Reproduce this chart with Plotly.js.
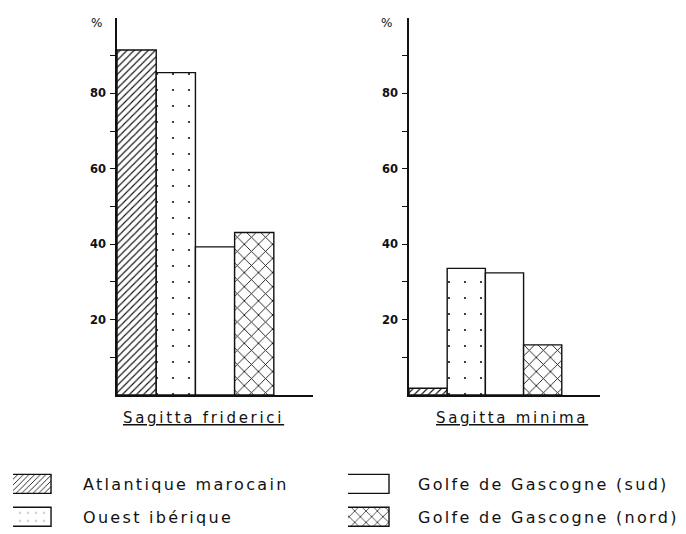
<!DOCTYPE html>
<html>
<head>
<meta charset="utf-8">
<script src="https://cdn.plot.ly/plotly-3.0.1.min.js"></script>
<style>
html,body{margin:0;padding:0;background:#fff;}
#chart{width:686px;height:534px;}
text.legendtext, text.legend2text{letter-spacing:2.3px;}
text.annotation-text{letter-spacing:2.7px;}
</style>
</head>
<body>
<div id="chart"></div>
<script>
// ---- data ----
const categories = ['Atlantique marocain', 'Ouest ibérique', 'Golfe de Gascogne (sud)', 'Golfe de Gascogne (nord)'];
const friderici = [91.5, 85.5, 39.3, 43.1];
const minima = [1.8, 33.6, 32.4, 13.3];
const panelTitles = ['Sagitta friderici', 'Sagitta minima'];
const majorTicks = [20, 40, 60, 80];
const majorTickText = ['20', '40', '60', '80'];
const minorTicks = [10, 30, 50, 70, 90];

// ---- styles ----
const patterns = [
  {shape: '/', size: 5, solidity: 0.22, fgcolor: '#111', bgcolor: '#fff', fgopacity: 1},
  {shape: '.', size: 16, solidity: 0.015, fgcolor: '#111', bgcolor: '#fff', fgopacity: 1},
  {shape: '', fgcolor: '#111', bgcolor: '#fff'},
  {shape: 'x', size: 10, solidity: 0.17, fgcolor: '#111', bgcolor: '#fff', fgopacity: 1}
];
const legendOf = ['legend', 'legend', 'legend2', 'legend2'];

const traces = [];
[friderici, minima].forEach((vals, p) => {
  const xa = p === 0 ? 'x' : 'x2';
  const ya = p === 0 ? 'y' : 'y2';
  categories.forEach((c, i) => {
    traces.push({
      type: 'bar',
      x: [c],
      y: [vals[i]],
      xaxis: xa, yaxis: ya,
      name: c,
      width: 1,
      legend: legendOf[i],
      legendgroup: 'g' + i,
      showlegend: p === 0,
      marker: {
        color: '#fff',
        line: {color: '#111', width: 1.4},
        pattern: patterns[i]
      },
      hoverinfo: 'skip'
    });
  });
});

const tickFont = {family: 'DejaVu Sans', size: 11.5, color: '#111', weight: 'bold'};
function yax(anchor) {
  return {
    anchor: anchor,
    range: [0, 100],
    tickvals: majorTicks, ticktext: majorTickText,
    ticks: 'outside', ticklen: 5, tickwidth: 1.3, tickcolor: '#111',
    minor: {tickvals: minorTicks, ticks: 'outside', ticklen: 5, tickwidth: 1, tickcolor: '#111'},
    showline: true, linecolor: '#111', linewidth: 1.8,
    showgrid: false, zeroline: false,
    tickfont: tickFont, ticklabelstandoff: 2,
    fixedrange: true
  };
}
function xax(anchor, dom) {
  return {
    anchor: anchor, domain: dom,
    type: 'category', categoryarray: categories,
    range: [-0.5, 4.5],
    showticklabels: false, ticks: '',
    showline: true, linecolor: '#111', linewidth: 1.6,
    showgrid: false, zeroline: false, fixedrange: true
  };
}
const yDom = [0.2603, 0.9663];
const textFont = {family: 'DejaVu Sans', size: 15, color: '#111'};
const legFont = {family: 'DejaVu Sans', size: 16, color: '#111'};

const layout = {
  width: 686, height: 534,
  margin: {l: 0, r: 0, t: 0, b: 0},
  paper_bgcolor: '#fff', plot_bgcolor: 'rgba(0,0,0,0)',
  barmode: 'overlay',
  showlegend: true,
  xaxis: xax('y', [0.1706, 0.4563]),
  xaxis2: xax('y2', [0.5962, 0.8746]),
  yaxis: Object.assign(yax('x'), {domain: yDom}),
  yaxis2: Object.assign(yax('x2'), {domain: yDom}),
  legend: {
    x: 0.019, y: 0.0, xanchor: 'left', yanchor: 'bottom',
    orientation: 'v', itemwidth: 60, tracegroupgap: 9,
    font: legFont,
    bgcolor: 'rgba(0,0,0,0)', itemclick: false, itemdoubleclick: false
  },
  legend2: {
    x: 0.5073, y: 0.0, xanchor: 'left', yanchor: 'bottom',
    orientation: 'v', itemwidth: 60, tracegroupgap: 9,
    font: legFont,
    bgcolor: 'rgba(0,0,0,0)', itemclick: false, itemdoubleclick: false
  },
  annotations: [
    {xref: 'x domain', yref: 'paper', x: 0.441, y: 0.218, xanchor: 'center', yanchor: 'middle',
     text: '<u>' + panelTitles[0] + '</u>', showarrow: false, font: textFont},
    {xref: 'x2 domain', yref: 'paper', x: 0.539, y: 0.218, xanchor: 'center', yanchor: 'middle',
     text: '<u>' + panelTitles[1] + '</u>', showarrow: false, font: textFont},
    {xref: 'x domain', yref: 'y domain', x: -0.095, y: 0.987, xanchor: 'center', yanchor: 'middle',
     text: '%', showarrow: false, font: {family: 'DejaVu Sans', size: 12, color: '#111'}},
    {xref: 'x2 domain', yref: 'y2 domain', x: -0.11, y: 0.987, xanchor: 'center', yanchor: 'middle',
     text: '%', showarrow: false, font: {family: 'DejaVu Sans', size: 12, color: '#111'}}
  ]
};

Plotly.newPlot('chart', traces, layout, {staticPlot: true, displayModeBar: false}).then(gd => {
  // wide legend swatches like the reference
  gd.querySelectorAll('g.legend .legendpoints path').forEach(p => {
    p.setAttribute('d', 'M3,9.5H-39V-9.5H3Z');
  });
  gd.querySelectorAll('g.legend2 .legendpoints path').forEach(p => {
    p.setAttribute('d', 'M6,9.5H-36V-9.5H6Z');
  });
});
</script>
</body>
</html>
